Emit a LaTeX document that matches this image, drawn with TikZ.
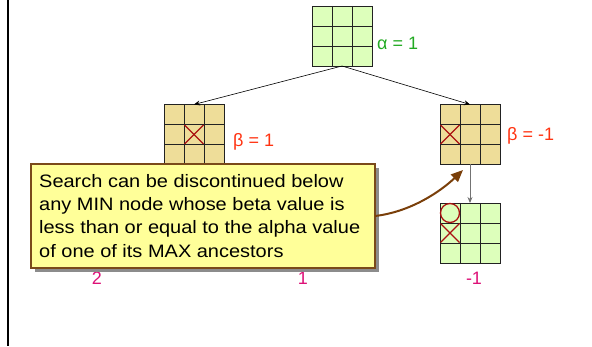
\documentclass[tikz,border=0pt]{standalone}
\usepackage{fontspec}
\setmainfont{Liberation Sans}
\newfontfamily\notefont[FakeStretch=1.11]{Liberation Sans}
\usetikzlibrary{arrows.meta,calc}
\definecolor{maxfill}{HTML}{DDFFBB}
\definecolor{minfill}{HTML}{EEDD99}
\definecolor{gridline}{HTML}{222222}
\definecolor{crossred}{HTML}{AA1111}
\definecolor{alphagreen}{HTML}{22AA22}
\definecolor{betared}{HTML}{FF3311}
\definecolor{valmag}{HTML}{DD1177}
\definecolor{noteyellow}{HTML}{FFFF99}
\definecolor{notebrown}{HTML}{7A4A1A}
\definecolor{arrowbrown}{HTML}{7A3F0A}
\tikzset{
  gridbox/.style={draw=gridline,line width=0.8pt,minimum size=60pt,inner sep=0pt,outer sep=0pt},
  innerline/.style={draw=gridline,line width=0.8pt},
  crossmark/.style={draw=crossred,line width=1.3pt},
  edge/.style={draw=black,line width=0.6pt,-{Stealth[length=6pt,width=5pt]}},
  alphalbl/.style={text=alphagreen,font=\fontsize{18}{21}\selectfont,anchor=west,inner sep=0pt},
  betalbl/.style={text=betared,font=\fontsize{18}{21}\selectfont,anchor=west,inner sep=0pt},
  vallbl/.style={text=valmag,font=\fontsize{18}{21}\selectfont,inner sep=0pt},
  notebox/.style={draw=notebrown,fill=noteyellow,line width=2pt,minimum width=344pt,minimum height=104pt,inner sep=0pt,outer sep=0pt},
}
\newcommand\mygridlines[1]{%
  \draw[innerline] ([xshift=-10pt]#1.north) -- ([xshift=-10pt]#1.south);
  \draw[innerline] ([xshift=10pt]#1.north) -- ([xshift=10pt]#1.south);
  \draw[innerline] ([yshift=-10pt]#1.west) -- ([yshift=-10pt]#1.east);
  \draw[innerline] ([yshift=10pt]#1.west) -- ([yshift=10pt]#1.east);
}
\newcommand\mycross[2]{%
  \draw[crossmark] ($(#1)+(#2)+(-9.5,-9.5)$) -- ($(#1)+(#2)+(9.5,9.5)$);
  \draw[crossmark] ($(#1)+(#2)+(-9.5,9.5)$) -- ($(#1)+(#2)+(9.5,-9.5)$);
}
\begin{document}
\begin{tikzpicture}[x=1pt,y=-1pt]
\useasboundingbox (0,0) rectangle (592,347);
% left frame line
\draw[line width=1.3pt] (8,0) -- (8,346);
% grids
\node[gridbox,fill=maxfill] (top) at (342,36) {};
\mygridlines{top}
\node[gridbox,fill=minfill] (minl) at (194,134.5) {};
\mygridlines{minl}
\mycross{minl}{0,0}
\node[gridbox,fill=minfill] (minr) at (470,134.5) {};
\mygridlines{minr}
\mycross{minr}{-20,0}
\node[gridbox,fill=maxfill] (leaf) at (470,233) {};
\mygridlines{leaf}
\mycross{leaf}{-20,0}
\draw[crossmark] ($(leaf)+(-20,-20)$) circle (9.5pt);
% edges
\draw[edge] (top.south) -- (minl.north);
\draw[edge] (top.south) -- (minr.north);
\draw[line width=0.8pt,draw=black!55,-{Stealth[length=6pt,width=5pt,fill=black]}] (minr.south) -- (leaf.north);
% labels
\node[alphalbl] (alab) at (377,43) {α = 1};
\node[betalbl] (blab1) at (233,142) {β = 1};
\node[betalbl] (blab2) at (507,136) {β = -1};
\node[vallbl] (v1) at (97,278) {2};
\node[vallbl] (v2) at (303,278) {1};
\node[vallbl] (v3) at (474,278) {-1};
% note with shadow
\fill[black!45] (35,168) rectangle (379,272);
\node[notebox] (note) at (203,216) {};
\node[anchor=north west,align=left,inner sep=0pt,font=\notefont\fontsize{18}{23.3}\selectfont] (notetext) at (39,174)
 {Search can be discontinued below\\any MIN node whose beta value is\\less than or equal to the alpha value\\of one of its MAX ancestors};
\coordinate (tipend) at (463,170);
\draw[arrowbrown,line width=2pt,-{Triangle[length=12pt,width=10pt]}] (note.east) .. controls (410,212) and (440,192) .. (tipend);
\end{tikzpicture}
\end{document}
